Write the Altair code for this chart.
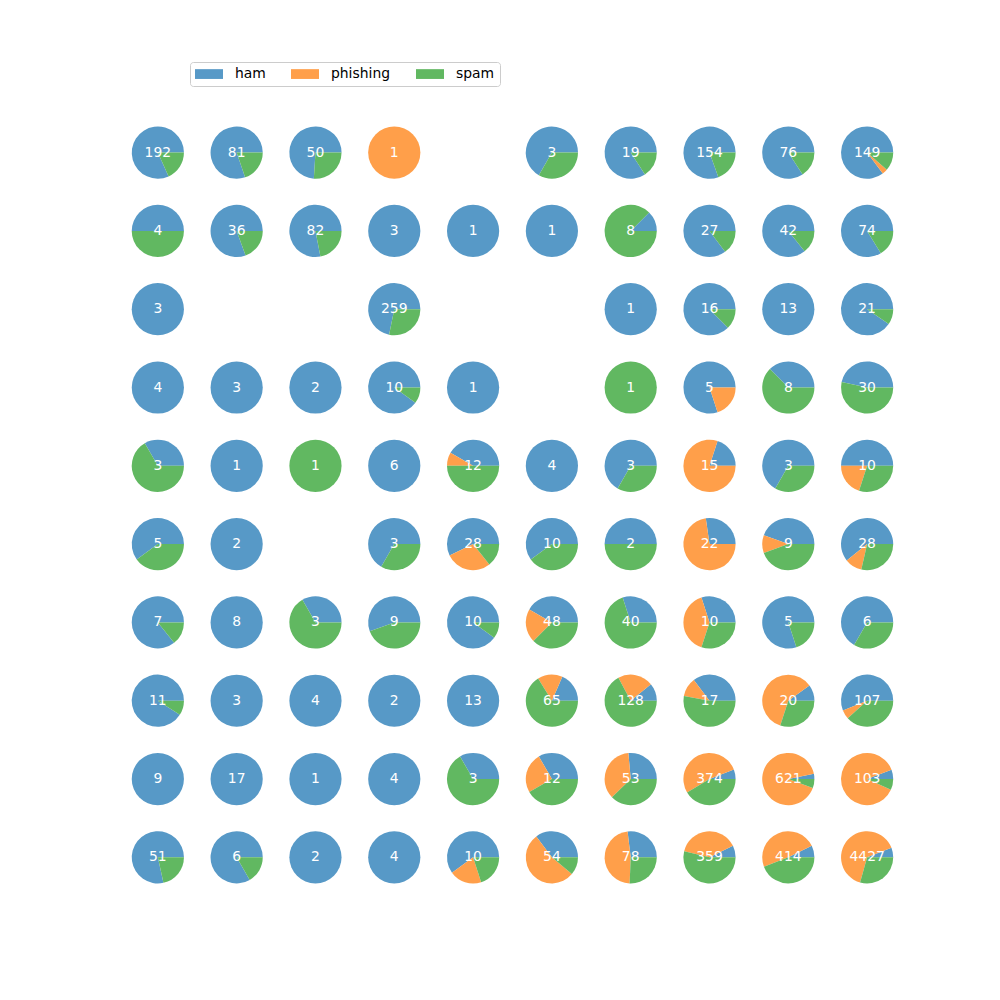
import math
import altair as alt
import pandas as pd

CATEGORIES = ["ham", "phishing", "spam"]
COLORS = ["#5799c7", "#ff9f4a", "#61b861"]

# counts per grid cell (row, col); None = empty cell
HAM = [
    [157, 65, 37, 0, None, 2, 16, 124, 64, 127],
    [2, 29, 64, 3, 1, 1, 1, 23, 36, 62],
    [3, None, None, 186, None, None, 1, 14, 13, 19],
    [4, 3, 2, 9, 1, None, 0, 4, 3, 14],
    [1, 1, 0, 6, 5, 4, 2, 3, 2, 5],
    [3, 2, None, 2, 16, 6, 1, 6, 4, 17],
    [6, 8, 1, 5, 9, 20, 12, 3, 4, 4],
    [10, 3, 4, 2, 13, 12, 14, 6, 2, 60],
    [9, 17, 1, 4, 1, 4, 14, 22, 20, 6],
    [40, 5, 2, 4, 6, 19, 21, 26, 30, 262],
]
PHISHING = [
    [0, 0, 0, 1, None, 0, 0, 0, 0, 5],
    [0, 0, 0, 0, 0, 0, 0, 0, 0, 0],
    [0, None, None, 0, None, None, 0, 0, 0, 0],
    [0, 0, 0, 0, 0, None, 0, 1, 0, 0],
    [0, 0, 0, 0, 1, 0, 0, 12, 0, 2],
    [0, 0, None, 0, 8, 0, 0, 16, 1, 3],
    [0, 0, 0, 0, 0, 10, 0, 4, 0, 0],
    [0, 0, 0, 0, 0, 10, 28, 2, 12, 6],
    [0, 0, 0, 0, 0, 3, 19, 197, 566, 90],
    [0, 0, 0, 0, 2, 29, 37, 140, 201, 2866],
]
SPAM = [
    [35, 16, 13, 0, None, 1, 3, 30, 12, 17],
    [2, 7, 18, 0, 0, 0, 7, 4, 6, 12],
    [0, None, None, 73, None, None, 0, 2, 0, 2],
    [0, 0, 0, 1, 0, None, 1, 0, 5, 16],
    [2, 0, 1, 0, 6, 0, 1, 0, 1, 3],
    [2, 0, None, 1, 4, 4, 1, 0, 4, 8],
    [1, 0, 2, 4, 1, 18, 28, 3, 1, 2],
    [1, 0, 0, 0, 0, 43, 86, 9, 6, 41],
    [0, 0, 0, 0, 2, 5, 20, 155, 35, 7],
    [11, 1, 0, 0, 2, 6, 20, 193, 183, 1299],
]

records = []
for r in range(10):
    for c in range(10):
        if HAM[r][c] is None:
            continue
        for k, (cat, arr) in enumerate(zip(CATEGORIES, [HAM, PHISHING, SPAM])):
            v = arr[r][c]
            if v > 0:
                records.append(dict(row=r, col=c, category=cat, order=k, count=v))

df = pd.DataFrame(records)

xscale = alt.Scale(domain=[-2.0028, 10.686], range=[0, 1000])
yscale = alt.Scale(domain=[-1.949, 10.822], range=[0, 1000])

base = alt.Chart(df)

pies = (
    base.transform_stack(
        stack="count",
        groupby=["row", "col"],
        as_=["t0", "t1"],
        offset="normalize",
        sort=[alt.SortField("order", order="ascending")],
    )
    .mark_arc(radius=26.1)
    .encode(
        x=alt.X("col:Q", scale=xscale, axis=None),
        y=alt.Y("row:Q", scale=yscale, axis=None),
        theta=alt.Theta(
            "t0:Q",
            scale=alt.Scale(domain=[0, 1], range=[2.5 * math.pi, 0.5 * math.pi]),
        ),
        theta2="t1:Q",
        color=alt.Color(
            "category:N",
            scale=alt.Scale(domain=CATEGORIES, range=COLORS),
            legend=alt.Legend(
                title=None,
                orient="none",
                legendX=190,
                legendY=62,
                direction="horizontal",
                symbolType="M-1,-0.7L3,-0.7L3,0.7L-1,0.7Z",
                symbolSize=196,
                symbolStrokeWidth=0,
                symbolOpacity=1,
                labelFontSize=13.9,
                labelFont="DejaVu Sans",
                labelColor="black",
                columnPadding=25,
                labelOffset=26,
                padding=5,
                strokeColor="#cccccc",
                fillColor="white",
                cornerRadius=3,
            ),
        ),
    )
)

labels = (
    base.transform_aggregate(total="sum(count)", groupby=["row", "col"])
    .mark_text(color="white", fontSize=13.9, font="DejaVu Sans", baseline="middle", align="center")
    .encode(
        x=alt.X("col:Q", scale=xscale, axis=None),
        y=alt.Y("row:Q", scale=yscale, axis=None),
        text="total:Q",
    )
)

chart = (
    alt.layer(pies, labels)
    .properties(width=1000, height=1000, autosize="none", padding=0)
    .configure_view(stroke=None)
)

chart.save("out.html", embed_options={"renderer": "svg", "actions": False})
